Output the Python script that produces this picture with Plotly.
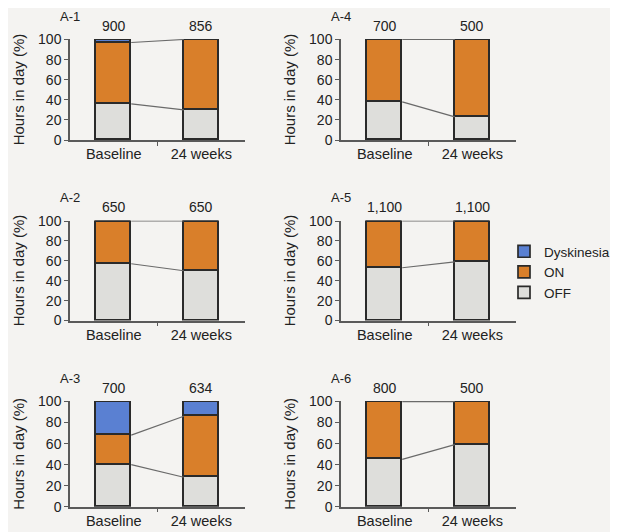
import plotly.graph_objects as go

panels = ["A-1", "A-2", "A-3", "A-4", "A-5", "A-6"]
timepoints = ["Baseline", "24 weeks"]
off_base = [36, 57, 40, 38, 53, 45]
off_24w = [30, 50, 28, 23, 59, 59]
on_base = [61, 43, 28, 62, 47, 55]
on_24w = [70, 50, 58, 77, 41, 41]
dys_base = [3, 0, 32, 0, 0, 0]
dys_24w = [0, 0, 14, 0, 0, 0]
n_base = ["900", "650", "700", "700", "1,100", "800"]
n_24w = ["856", "650", "634", "500", "1,100", "500"]
y_ticks = [0, 20, 40, 60, 80, 100]

# page body has an 8px margin: figure is placed at (8, 8) in the window
OFF8 = 8
W, H = 618 - OFF8, 532 - OFF8
FONT = "Liberation Sans, Arial, sans-serif"
C_OFF = "#dededb"
C_ON = "#d97f2a"
C_DYS = "#5a80d2"
EDGE = "#2a2a2a"
AX = "#5a5a5a"
BG = "#f4f3f1"
BW = 0.4

# window-pixel layout of the panels: (left x, right x), (bottom y, top y)
xdom = [(70, 245), (341, 516)]
ydom = [(140, 39), (320.5, 220.5), (506.7, 401)]


def fx(px):
    return (px - OFF8) / W


def fy(py):
    return 1 - (py - OFF8) / H


fig = go.Figure()
annotations = []
for i, name in enumerate(panels):
    col = i // 3
    row = i % 3
    k = i + 1
    xa = "x" if k == 1 else f"x{k}"
    ya = "y" if k == 1 else f"y{k}"
    series = [
        ("OFF", [off_base[i], off_24w[i]], C_OFF),
        ("ON", [on_base[i], on_24w[i]], C_ON),
        ("Dyskinesia", [dys_base[i], dys_24w[i]], C_DYS),
    ]
    for sname, vals, color in series:
        fig.add_trace(go.Bar(
            x=[0, 1], y=vals, width=BW, name=sname,
            marker=dict(color=color, line=dict(color=EDGE, width=1.7)),
            xaxis=xa, yaxis=ya, showlegend=(i == 0),
            hoverinfo="skip",
        ))
    cum_off = [off_base[i], off_24w[i]]
    cum_on = [off_base[i] + on_base[i], off_24w[i] + on_24w[i]]
    for cum in (cum_off, cum_on):
        fig.add_trace(go.Scatter(
            x=[BW / 2, 1 - BW / 2], y=cum, mode="lines",
            line=dict(color="#6a6a6a", width=1.2),
            xaxis=xa, yaxis=ya, showlegend=False, hoverinfo="skip",
        ))
    x0, x1 = xdom[col]
    yb, yt = ydom[row]
    axis_x = dict(
        domain=[fx(x0), fx(x1)], anchor=ya, range=[-0.5, 1.5],
        tickvals=[0, 1], ticktext=timepoints, ticks="", showline=True,
        linecolor=AX, linewidth=1.5, showgrid=False, zeroline=False,
        tickfont=dict(family=FONT, size=14.5, color="#222"),
        minor=dict(tickvals=[0.5], ticks="outside", ticklen=4,
                   tickcolor=AX, tickwidth=1.2),
        automargin=False, fixedrange=True,
    )
    axis_y = dict(
        domain=[fy(yb), fy(yt)], anchor=xa, range=[0, 100.5],
        tickvals=y_ticks, ticks="outside", ticklen=4, tickcolor=AX,
        tickwidth=1.2, showline=True, linecolor=AX, linewidth=1.5,
        showgrid=False, zeroline=False,
        tickfont=dict(family=FONT, size=14, color="#222"),
        title=dict(text="Hours in day (%)", standoff=10,
                   font=dict(family=FONT, size=15, color="#222")),
        automargin=False, fixedrange=True,
    )
    fig.update_layout(**{("xaxis" if k == 1 else f"xaxis{k}"): axis_x,
                         ("yaxis" if k == 1 else f"yaxis{k}"): axis_y})
    for xv, txt in zip([0, 1], [n_base[i], n_24w[i]]):
        annotations.append(dict(
            x=xv, y=100, xref=xa, yref=ya, text=txt, showarrow=False,
            yanchor="bottom", yshift=4,
            font=dict(family=FONT, size=14, color="#222"),
        ))
    annotations.append(dict(
        x=0, y=1, xref=f"{xa} domain", yref=f"{ya} domain", text=name,
        showarrow=False, xanchor="center", yanchor="middle", yshift=23,
        font=dict(family=FONT, size=13, color="#222"),
    ))

fig.update_layout(
    width=W, height=H, barmode="stack", bargap=0,
    paper_bgcolor=BG, plot_bgcolor=BG,
    margin=dict(l=0, r=0, t=0, b=0, autoexpand=False),
    annotations=annotations,
    legend=dict(x=fx(504), y=fy(236), xanchor="left", yanchor="top",
                traceorder="reversed",
                font=dict(family=FONT, size=13.5, color="#222"),
                bgcolor="rgba(0,0,0,0)", tracegroupgap=0,
                itemwidth=30),
    font=dict(family=FONT),
)

fig.write_html("out.html")
